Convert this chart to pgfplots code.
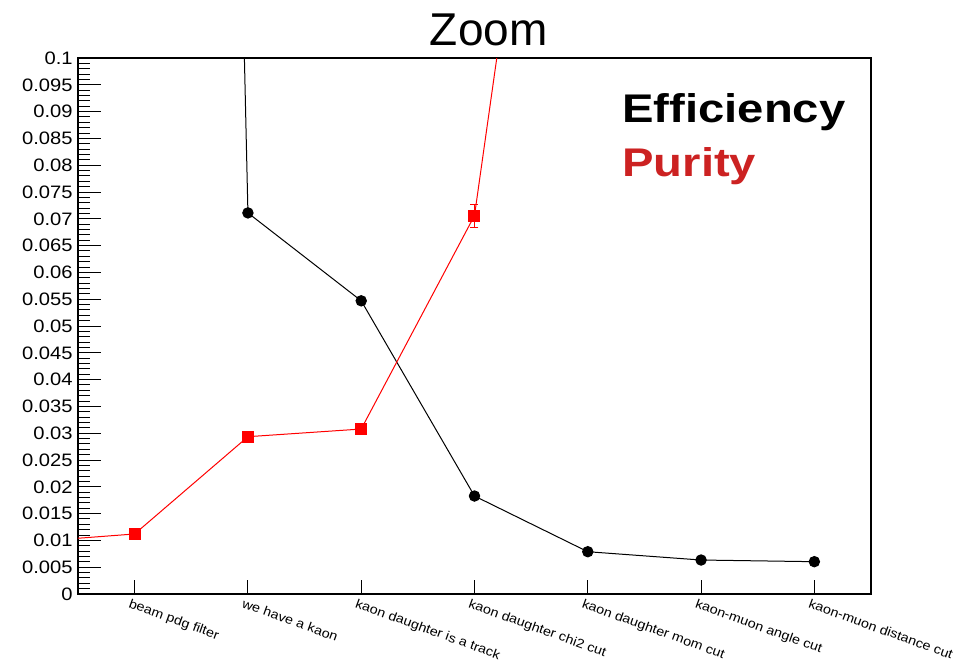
\documentclass[border=0pt]{standalone}
\usepackage{fontspec}
\setmainfont{Liberation Sans}
\newfontfamily\tickfont[FakeStretch=1.12]{Liberation Sans}
\newfontfamily\legfont[FakeStretch=1.18]{Liberation Sans}
\usepackage{pgfplots}
\pgfplotsset{compat=1.18}
\definecolor{purityred}{RGB}{204,34,34}

\begin{document}
\begin{tikzpicture}
\begin{axis}[
  scale only axis, width=396.5pt, height=268pt,
  at={(0,0)}, anchor=south west,
  xmin=-0.5, xmax=6.5, ymin=0, ymax=0.1,
  axis line style={line width=0.7pt},
  xtick={0,...,6},
  xticklabels={beam pdg filter, we have a kaon, kaon daughter is a track,
    kaon daughter chi2 cut, kaon daughter mom cut, kaon-muon angle cut,
    kaon-muon distance cut},
  xtick pos=bottom, ytick pos=left, tick align=inside,
  xtick style={/pgfplots/major tick length=7pt},
  ytick={0,0.005,0.01,0.015,0.02,0.025,0.03,0.035,0.04,0.045,0.05,
    0.055,0.06,0.065,0.07,0.075,0.08,0.085,0.09,0.095,0.1},
  yticklabels={0,0.005,0.01,0.015,0.02,0.025,0.03,0.035,0.04,0.045,0.05,
    0.055,0.06,0.065,0.07,0.075,0.08,0.085,0.09,0.095,0.1},
  minor y tick num=4,
  major tick length=11.5pt, minor tick length=6pt,
  tick style={black, line width=0.5pt},
  xticklabel style={font=\tickfont\fontsize{6.4}{7}\selectfont, rotate=-20,
    anchor=north west, inner sep=0pt, xshift=-1pt, yshift=-2.5pt},
  yticklabel style={font=\tickfont\fontsize{9}{10}\selectfont, anchor=east,
    inner sep=0pt, xshift=-2.5pt},
  title={Zoom},
  every axis title shift=0pt,
  title style={font=\fontsize{23}{26}\selectfont, at={(0.518,1)},
    anchor=base, inner sep=0pt, yshift=6.5pt},
  clip marker paths=true,
]
% efficiency after each cut
\addplot[black, line width=0.5pt, mark=*, mark size=2.6pt]
  coordinates {(0,1) (1,0.0711) (2,0.0547) (3,0.01828) (4,0.00789)
    (5,0.00634) (6,0.00603)};
% purity after each cut
\addplot[red, line width=0.5pt, mark=square*, mark size=2.75pt]
  coordinates {(-1,0.0096) (0,0.0112) (1,0.02935) (2,0.03078) (3,0.0706)
    (4,0.22)};
% uncertainty on the chi2-cut purity
\addplot[red, draw=none, mark=none, forget plot,
  error bars/.cd, y dir=both, y explicit,
  error bar style={red, line width=0.5pt},
  error mark options={red, rotate=90, mark size=2pt}]
  coordinates {(3,0.0706) +- (0,0.00215)};

\node[anchor=base west, inner sep=0pt,
  font=\legfont\bfseries\fontsize{20}{22}\selectfont]
  at (rel axis cs:0.686,0.879) {Efficiency};
\node[anchor=base west, inner sep=0pt, text=purityred,
  font=\legfont\bfseries\fontsize{20}{22}\selectfont]
  at (rel axis cs:0.686,0.778) {Purity};
\end{axis}
\pgfresetboundingbox
\path[use as bounding box] (-39pt,-33.5pt) rectangle (441pt,297pt);
\end{tikzpicture}
\end{document}
